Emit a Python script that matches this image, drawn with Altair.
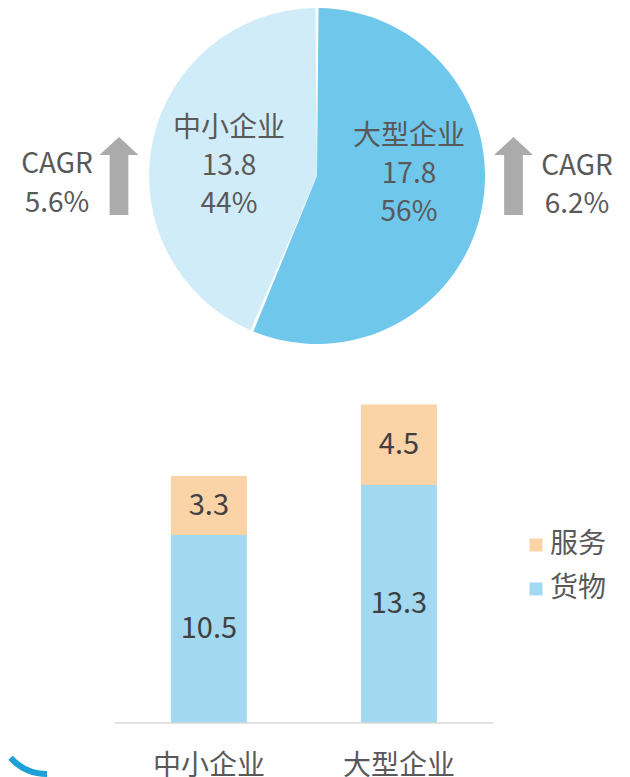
import math
import altair as alt
import pandas as pd

FONT = "Noto Sans CJK SC"
GREY = "#595959"

# ---- data ----
segments = ["中小企业", "大型企业"]
pie_values = [13.8, 17.8]
pie_shares = ["44%", "56%"]
cagr_labels = ["5.6%", "6.2%"]
components = ["货物", "服务"]
goods = [10.5, 13.3]
services = [3.3, 4.5]

pie_df = pd.DataFrame({
    "seg": segments,
    "val": pie_values,
    "share": pie_shares,
    "ord": [1, 0],
})
pie_df["label"] = [f"{s}\n{v}\n{p}" for s, v, p in zip(segments, pie_values, pie_shares)]

cagr_df = pd.DataFrame({"seg": segments, "cagr": cagr_labels})
cagr_df["label"] = ["CAGR\n" + c for c in cagr_labels]

bar_rows = []
for i, seg in enumerate(segments):
    bar_rows.append({"cat": seg, "comp": components[0], "val": goods[i], "ord": 0})
    bar_rows.append({"cat": seg, "comp": components[1], "val": services[i], "ord": 1})
bar_df = pd.DataFrame(bar_rows)

# ---- top panel: pie ----
W1, H1 = 614, 357
CX, CY, R = 309, 168, 168

pie = alt.Chart(pie_df).mark_arc(radius=R, padAngle=0.018).encode(
    theta=alt.Theta("val:Q", stack=True),
    order=alt.Order("ord:Q"),
    color=alt.Color("seg:N", scale=alt.Scale(domain=["大型企业", "中小企业"],
                                             range=["#6FC8EB", "#D0ECF8"]), legend=None),
    x=alt.value(CX), y=alt.value(CY),
)

def pie_label(seg, x, y):
    return alt.Chart(pie_df).transform_filter(alt.datum.seg == seg).mark_text(
        font=FONT, fontSize=28, color=GREY, lineBreak="\n", lineHeight=38,
        align="center", baseline="middle",
    ).encode(text="label:N", x=alt.value(x), y=alt.value(y))

ARROW = "M0,-1L0.5,-0.54L0.24,-0.54L0.24,1L-0.24,1L-0.24,-0.54L-0.5,-0.54Z"

def arrow(seg, x, y):
    return alt.Chart(cagr_df).transform_filter(alt.datum.seg == seg).mark_point(
        shape=ARROW, filled=True, size=6084, color="#ABABAB", opacity=1, strokeWidth=0,
    ).encode(x=alt.value(x), y=alt.value(y))

def cagr_text(seg, x, y, lh):
    return alt.Chart(cagr_df).transform_filter(alt.datum.seg == seg).mark_text(
        font=FONT, fontSize=28, color=GREY, lineBreak="\n", lineHeight=lh,
        align="center", baseline="middle",
    ).encode(text="label:N", x=alt.value(x), y=alt.value(y))

top = alt.layer(
    pie,
    pie_label("中小企业", 221, 121),
    pie_label("大型企业", 401, 129),
    arrow("中小企业", 111, 168),
    arrow("大型企业", 505.5, 168),
    cagr_text("中小企业", 49, 157, 39),
    cagr_text("大型企业", 569, 159, 38),
).properties(width=W1, height=H1)

# ---- bottom panel: stacked bars ----
W2, H2 = 485, 358

base = alt.Chart(bar_df).transform_stack(
    stack="val", groupby=["cat"], as_=["v0", "v1"], sort=[alt.SortField("ord", order="ascending")]
).transform_calculate(mid="(datum.v0 + datum.v1) / 2")

xenc = alt.X("cat:N", sort=segments,
             scale=alt.Scale(paddingInner=0.6, paddingOuter=0.576, align=0.744),
             axis=alt.Axis(title=None, labelAngle=0, domain=False, ticks=False, tickSize=0,
                           labelFont=FONT, labelFontSize=28, labelColor=GREY, labelPadding=29,
                           grid=False))
yscale = alt.Scale(domain=[0, 20], nice=False, zero=True)

bars = base.mark_bar().encode(
    x=xenc,
    y=alt.Y("v1:Q", scale=yscale, axis=None),
    y2="v0:Q",
    color=alt.Color("comp:N", scale=alt.Scale(domain=["服务", "货物"], range=["#FAD3A7", "#A2D9F1"]),
                    legend=alt.Legend(title=None, orient="none", legendX=514, legendY=166,
                                      symbolType="square", symbolSize=169, symbolStrokeWidth=0,
                                      labelFont=FONT, labelFontSize=28, labelColor=GREY,
                                      rowPadding=16, labelOffset=0, padding=0)),
)

labels = base.mark_text(font=FONT, fontSize=29, color="#404040", baseline="middle").encode(
    x=alt.X("cat:N", sort=segments),
    y=alt.Y("mid:Q", scale=yscale),
    text=alt.Text("val:Q", format=".1f"),
)

axis_line = alt.Chart(pd.DataFrame({"z": [0]})).mark_rule(color="#D9D9D9", strokeWidth=1.5).encode(
    y=alt.Y("z:Q", scale=yscale), x=alt.value(107), x2=alt.value(485)
)

# decorative blue arc at lower-left corner
deco = alt.Chart(pd.DataFrame({"z": [0]})).mark_arc(
    innerRadius=46, radius=52, theta=math.pi, theta2=3.98, color="#1E9FD7"
).encode(x=alt.value(39), y=alt.value(360))

bottom = alt.layer(bars, labels, axis_line, deco).properties(width=W2, height=H2)

chart = alt.vconcat(top, bottom, spacing=0).resolve_scale(color="independent").properties(
    padding=0
).configure_view(stroke=None)

chart.save("out.html", embed_options={"renderer": "svg", "actions": False})
